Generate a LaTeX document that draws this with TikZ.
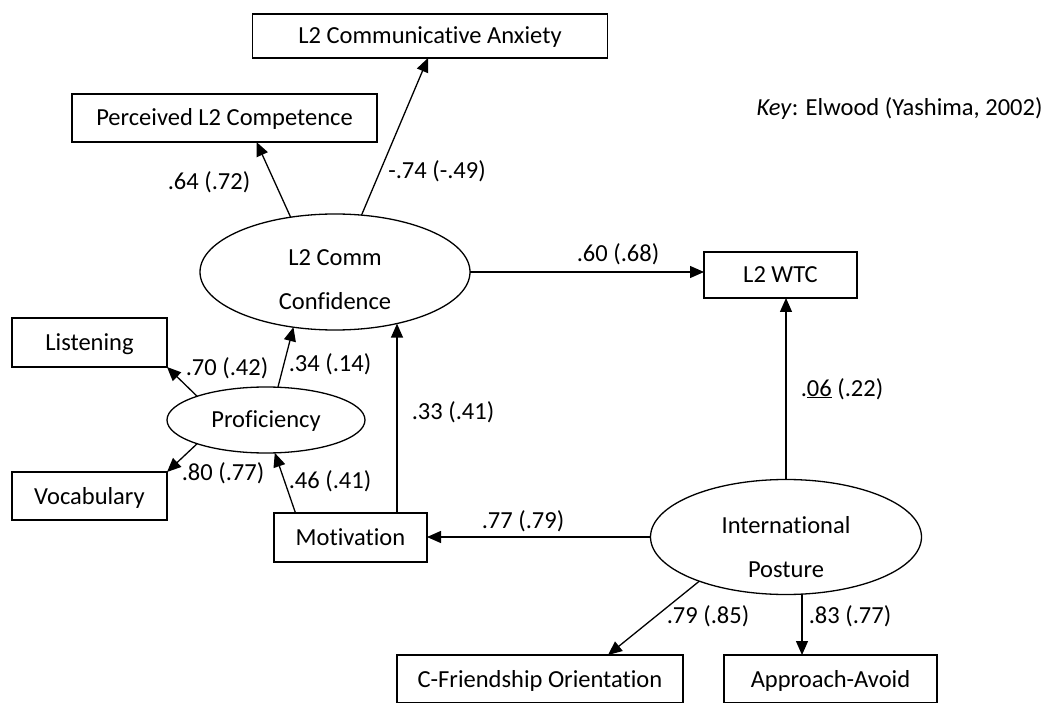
\documentclass[tikz,border=0pt]{standalone}
\usepackage{fontspec}
\setmainfont{Carlito}[Ligatures={NoCommon}]
\usetikzlibrary{shapes.geometric,arrows.meta,calc}
\begin{document}
\begin{tikzpicture}[x=1pt,y=-1pt,
  font=\fontsize{24.5}{29}\selectfont,
  every node/.style={inner sep=0pt, outer sep=0pt, text height=16pt, text depth=0pt},
  box/.style={draw, line width=1.3pt, rectangle},
  ellip/.style={draw, line width=1.3pt, ellipse},
  lbl/.style={},
  arr/.style={line width=1.3pt, -{Triangle[length=14pt,width=12pt]}},
  link/.style={line width=1.3pt}
]
\useasboundingbox (0,0) rectangle (1050,703);

% measured variables
\node[box, minimum width=355pt, minimum height=44pt] (anx) at (430,36) {L2 Communicative Anxiety};
\node[box, minimum width=305pt, minimum height=48pt] (comp) at (224.5,118) {Perceived L2 Competence};
\node[box, minimum width=155pt, minimum height=49pt] (list) at (89.5,342.5) {Listening};
\node[box, minimum width=155pt, minimum height=48pt] (voc) at (89.5,496) {Vocabulary};
\node[box, minimum width=153pt, minimum height=49pt] (mot) at (350.5,537.5) {Motivation};
\node[box, minimum width=153pt, minimum height=46pt] (wtc) at (780.5,275) {L2 WTC};
\node[box, minimum width=286pt, minimum height=48pt] (cfo) at (540,679) {C-Friendship Orientation};
\node[box, minimum width=213pt, minimum height=48pt] (appr) at (830.5,679) {Approach-Avoid};

% latent variables
\node[ellip, minimum width=270pt, minimum height=116pt] (conf) at (335,272) {};
\node[anchor=base] (confa) at (335,266) {L2 Comm};
\node[anchor=base] (confb) at (335,310) {Confidence};
\node[ellip, minimum width=198pt, minimum height=66pt] (prof) at (266,420) {Proficiency};
\node[ellip, minimum width=271pt, minimum height=115pt] (post) at (786,537) {};
\node[anchor=base] (posta) at (786,533) {International};
\node[anchor=base] (postb) at (786,577) {Posture};

% key
\node (key) at (899.5,108) {\textit{Key}: Elwood (Yashima, 2002)};

% paths
\draw[arr] (conf.129) -- ($(comp.south)+(32,0)$);
\draw[arr] (conf.65) -- ($(anx.south)+(-2,0)$);
\draw[arr] (conf.east) -- (wtc.west |- conf.east);
\draw[arr] (prof.161) -- (list.south east);
\draw[arr] (prof.199) -- (voc.north east);
\draw[arr] (prof.70) -- (conf.233);
\draw[arr] ($(mot.north)+(-55,0)$) -- (prof.285);
\coordinate (m1) at ($(mot.north)+(46.5,0)$);
\draw[arr] (m1) -- (m1 |- conf.320);
\draw[arr] (post.north) -- (post.north |- wtc.south);
\draw[arr] (post.west) -- (mot.east |- post.west);
\draw[arr] (post.207) -- ($(cfo.north)+(68,0)$);
\coordinate (p1) at ($(post.south)+(16,-1)$);
\draw[arr] (p1) -- (p1 |- appr.north);

% path coefficients
\node[lbl] (l1) at (209,182) {.64 (.72)};
\node[lbl] (l2) at (437,171) {-.74 (-.49)};
\node[lbl] (l3) at (618,254) {.60 (.68)};
\node[lbl] (l4) at (227,368) {.70 (.42)};
\node[lbl] (l5) at (330,364) {.34 (.14)};
\node[lbl] (l6) at (453,411) {.33 (.41)};
\node[lbl] (l7) at (842,388) {.\underline{06} (.22)};
\node[lbl] (l8) at (223,472) {.80 (.77)};
\node[lbl] (l9) at (330,480) {.46 (.41)};
\node[lbl] (l10) at (523,520) {.77 (.79)};
\node[lbl] (l11) at (708,615) {.79 (.85)};
\node[lbl] (l12) at (850,615) {.83 (.77)};
\end{tikzpicture}
\end{document}
